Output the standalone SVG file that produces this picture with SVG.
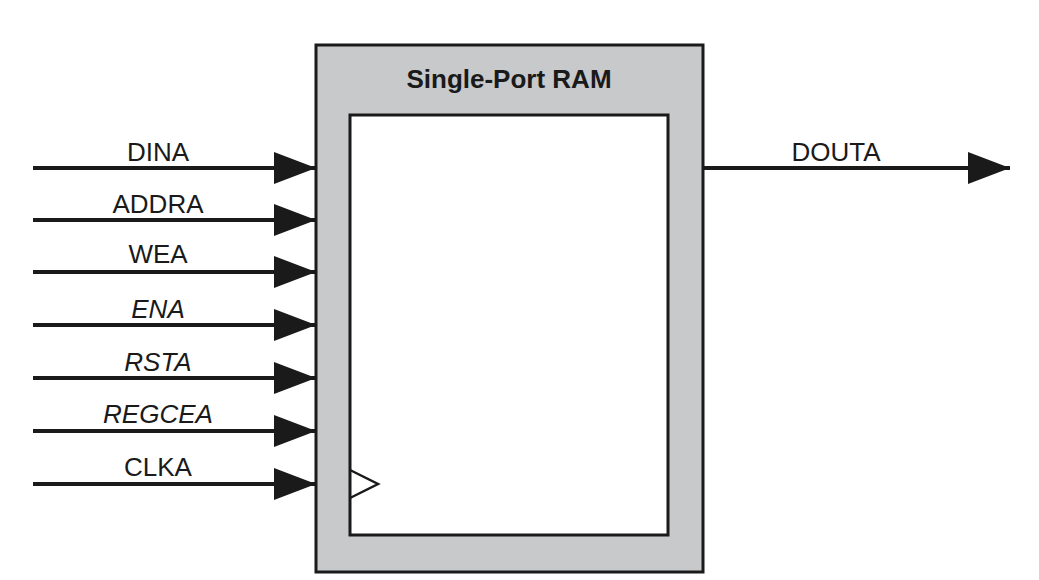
<svg xmlns="http://www.w3.org/2000/svg" width="1039" height="580" viewBox="0 0 1039 580">
<style>
.w{stroke:#1a1a1a;stroke-width:4;fill:none}
.t{font-family:"Liberation Sans",Arial,sans-serif;font-size:26px;fill:#1a1a1a;text-anchor:middle}
.i{font-style:italic}
</style>
<defs><marker id="a" markerUnits="userSpaceOnUse" markerWidth="44" markerHeight="32" refX="42" refY="16" orient="auto"><path d="M0,0L42,16L0,32Z" fill="#1a1a1a"/></marker></defs>
<rect width="1039" height="580" fill="#fff"/>
<g id="ram">
<rect x="316" y="45" width="387" height="527" fill="#c8c9cb" stroke="#1a1a1a" stroke-width="3"/>
<rect x="350" y="115" width="318" height="420" fill="#fff" stroke="#1a1a1a" stroke-width="3"/>
<path d="M350,470L378,484L350,498" fill="none" stroke="#1a1a1a" stroke-width="2.5"/>
<text x="509" y="88" class="t" style="font-weight:bold">Single-Port RAM</text>
</g>
<g id="connectors">
<line class="w" x1="33" y1="168" x2="316" y2="168" marker-end="url(#a)"/>
<line class="w" x1="33" y1="220" x2="316" y2="220" marker-end="url(#a)"/>
<line class="w" x1="33" y1="272" x2="316" y2="272" marker-end="url(#a)"/>
<line class="w" x1="33" y1="325" x2="316" y2="325" marker-end="url(#a)"/>
<line class="w" x1="33" y1="378" x2="316" y2="378" marker-end="url(#a)"/>
<line class="w" x1="33" y1="431" x2="316" y2="431" marker-end="url(#a)"/>
<line class="w" x1="33" y1="484" x2="316" y2="484" marker-end="url(#a)"/>
<line class="w" x1="703" y1="168" x2="1010" y2="168" marker-end="url(#a)"/>
</g>
<g id="labels">
<text class="t" x="158" y="161">DINA</text>
<text class="t" x="158" y="213">ADDRA</text>
<text class="t" x="158" y="263">WEA</text>
<text class="t i" x="158" y="318">ENA</text>
<text class="t i" x="158" y="371">RSTA</text>
<text class="t i" x="158" y="423">REGCEA</text>
<text class="t" x="158" y="476">CLKA</text>
<text class="t" x="836" y="161">DOUTA</text>
</g>
</svg>
